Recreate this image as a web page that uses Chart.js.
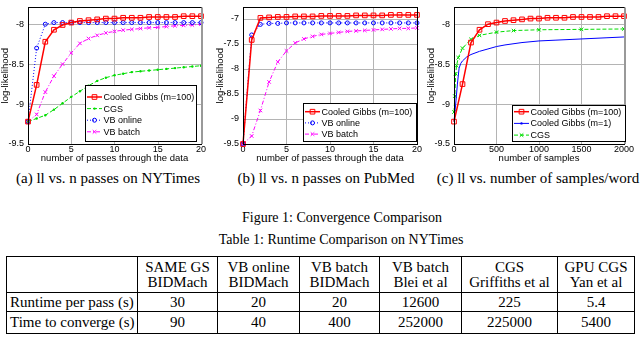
<!DOCTYPE html>
<html>
<head>
<meta charset="utf-8">
<script src="https://cdn.jsdelivr.net/npm/chart.js@4.4.1/dist/chart.umd.min.js"></script>
<style>
  body { margin:0; width:640px; height:337px; overflow:hidden; background:#fff; position:relative; font-family:"Liberation Serif", "Times New Roman", serif; color:#000; }
  canvas { position:absolute; }
  .cap { position:absolute; font-size:14px; white-space:nowrap; transform:translateX(-50%); line-height:16px; }
  .sub { font-size:15px; }
  table { position:absolute; left:6px; top:256px; border-collapse:collapse; font-size:15px; table-layout:fixed; }
  td { border:1px solid #000; text-align:center; padding:0; line-height:15px; white-space:nowrap; }
  td.rl { text-align:left; padding-left:3px; }
</style>
</head>
<body>
<canvas id="chartA" width="206" height="168" style="left:0;top:-2px"></canvas>
<canvas id="chartB" width="207" height="168" style="left:215px;top:-2px"></canvas>
<canvas id="chartC" width="208" height="168" style="left:426px;top:-2px"></canvas>

<div class="cap sub" style="left:108px;top:170px">(a) ll vs. n passes on NYTimes</div>
<div class="cap sub" style="left:326px;top:170px">(b) ll vs. n passes on PubMed</div>
<div class="cap sub" style="left:538px;top:170px">(c) ll vs. number of samples/word</div>
<div class="cap" style="left:342px;top:210px">Figure 1: Convergence Comparison</div>
<div class="cap" style="left:341px;top:232px">Table 1: Runtime Comparison on NYTimes</div>

<table id="runtime">
  <colgroup>
    <col style="width:131px"><col style="width:80px"><col style="width:82px"><col style="width:80px">
    <col style="width:82px"><col style="width:96px"><col style="width:77px">
  </colgroup>
</table>

<script>
// x values
const passes = [0, 1, 2, 3, 4, 5, 6, 7, 8, 9, 10, 11, 12, 13, 14, 15, 16, 17, 18, 19, 20];
const samplesM100 = [0, 100, 200, 300, 400, 500, 600, 700, 800, 900, 1000, 1100, 1200, 1300, 1400, 1500, 1600, 1700, 1800, 1900, 2000];
const samplesM1 = [0, 20, 40, 60, 80, 100, 150, 200, 300, 400, 500, 600, 800, 1000, 1200, 1400, 1600, 1800, 2000];
const samplesCGS = [0, 10, 20, 30, 50, 100, 200, 300, 500, 700, 1000, 1500, 2000];

// tick labels
const passTicks = [0, 5, 10, 15, 20];
const sampleTicks = [0, 500, 1000, 1500, 2000];
const llTicksA = [-9.5, -9, -8.5, -8];
const llTicksB = [-9.5, -9, -8.5, -8, -7.5, -7];

// (a) NYTimes, log-likelihood per pass
const nytCooled = [-9.22, -8.76, -8.22, -8.07, -8.01, -7.98, -7.96, -7.95, -7.94, -7.93, -7.93, -7.92, -7.92, -7.92, -7.91, -7.91, -7.91, -7.91, -7.90, -7.90, -7.90];
const nytCGS = [-9.22, -9.18, -9.14, -9.07, -8.99, -8.91, -8.84, -8.77, -8.71, -8.67, -8.64, -8.62, -8.60, -8.59, -8.58, -8.57, -8.56, -8.55, -8.54, -8.53, -8.52];
const nytVBOnline = [-9.22, -8.30, -8.00, -7.98, -7.98, -7.98, -7.98, -7.98, -7.98, -7.98, -7.98, -7.98, -7.98, -7.98, -7.98, -7.98, -7.98, -7.98, -7.98, -7.98, -7.98];
const nytVBBatch = [-9.22, -9.13, -8.85, -8.65, -8.50, -8.36, -8.24, -8.18, -8.14, -8.11, -8.09, -8.075, -8.065, -8.055, -8.045, -8.04, -8.03, -8.02, -8.015, -8.01, -8.00];

// (b) PubMed
const pubCooled = [-9.5, -7.42, -6.98, -6.97, -6.96, -6.96, -6.95, -6.95, -6.95, -6.94, -6.94, -6.94, -6.94, -6.93, -6.93, -6.93, -6.93, -6.92, -6.92, -6.92, -6.92];
const pubVBOnline = [-9.5, -7.32, -7.11, -7.09, -7.09, -7.08, -7.08, -7.08, -7.08, -7.08, -7.08, -7.08, -7.08, -7.08, -7.08, -7.08, -7.08, -7.08, -7.08, -7.08, -7.08];
const pubVBBatch = [-9.5, -9.34, -8.83, -8.26, -7.86, -7.64, -7.48, -7.40, -7.35, -7.31, -7.29, -7.27, -7.25, -7.24, -7.23, -7.22, -7.21, -7.20, -7.19, -7.19, -7.18];

// (c) log-likelihood vs samples per word
const sampM100 = [-9.22, -8.75, -8.23, -8.07, -8.00, -7.98, -7.96, -7.95, -7.94, -7.93, -7.93, -7.92, -7.92, -7.92, -7.91, -7.91, -7.91, -7.91, -7.90, -7.90, -7.90];
const sampM1 = [-9.22, -9.00, -8.75, -8.55, -8.49, -8.46, -8.41, -8.38, -8.34, -8.31, -8.28, -8.26, -8.23, -8.21, -8.20, -8.19, -8.18, -8.17, -8.16];
const sampCGS = [-9.10, -8.90, -8.62, -8.52, -8.42, -8.30, -8.19, -8.14, -8.10, -8.08, -8.07, -8.065, -8.06];

// table
const tableHead = ['', 'SAME GS<br>BIDMach', 'VB online<br>BIDMach', 'VB batch<br>BIDMach', 'VB batch<br>Blei et al', 'CGS<br>Griffiths et al', 'GPU CGS<br>Yan et al'];
const runtimePerPass = ['Runtime per pass (s)', '30', '20', '20', '12600', '225', '5.4'];
const timeToConverge = ['Time to converge (s)', '90', '40', '400', '252000', '225000', '5400'];

let tbl = document.getElementById('runtime');
let rows = [[tableHead, 36], [runtimePerPass, 19], [timeToConverge, 22]];
for (let [cells, h] of rows) {
    let row = tbl.insertRow(-1);
    row.style.height = h + 'px';
    cells.forEach((c, i) => {
        let td = row.insertCell(-1);
        td.innerHTML = c;
        if (i === 0) td.className = 'rl';
    });
}

const sans = '"Liberation Sans", Arial, sans-serif';

// styles of each curve (MATLAB look)
const redSq = { borderColor: '#ff0000', borderWidth: 1.5, pointStyle: 'rect', pointRadius: 3.3, pointBorderWidth: 1, pointBorderColor: '#ff0000', pointBackgroundColor: 'rgba(255,255,255,0)' };
const greenDot = { borderColor: '#00dd00', borderWidth: 1, borderDash: [4, 2], pointStyle: 'circle', pointRadius: 1.2, pointBorderWidth: 0, pointBackgroundColor: '#00dd00' };
const blueCirc = { borderColor: '#0000ff', borderWidth: 1, borderDash: [1, 2], pointStyle: 'circle', pointRadius: 2, pointBorderWidth: 1, pointBorderColor: '#0000ff', pointBackgroundColor: 'rgba(255,255,255,0)' };
const magX = { borderColor: '#ff00ff', borderWidth: 1, borderDash: [4, 2, 1, 2], pointStyle: 'crossRot', pointRadius: 2.5, pointBorderWidth: 1, pointBorderColor: '#ff00ff' };
const blueLine = { borderColor: '#0000ff', borderWidth: 1, pointRadius: 0, legendPoint: { pointStyle: 'circle', radius: 1.2, fill: '#0000ff' } };
const greenX = { borderColor: '#00dd00', borderWidth: 1, borderDash: [4, 2], pointStyle: 'crossRot', pointRadius: 2.5, pointBorderWidth: 1, pointBorderColor: '#00dd00' };

function series(label, xs, ys, style) {
    return Object.assign({ label: label, data: xs.map((x, i) => ({ x: x, y: ys[i] })), clip: false, fill: false, tension: 0 }, style);
}

// grid (put behind the curves), box round the axes and a MATLAB style legend inside
const matlabBox = {
    id: 'matlabBox',
    afterDraw(chart, args, opts) {
        const ctx = chart.ctx, a = chart.chartArea;
        const xs = chart.scales.x, ys = chart.scales.y;
        ctx.save();
        ctx.globalCompositeOperation = 'destination-over';
        ctx.strokeStyle = '#b4b4b4';
        ctx.lineWidth = 1;
        ctx.setLineDash([]);
        ctx.beginPath();
        xs.ticks.forEach(t => {
            let px = Math.round(xs.getPixelForValue(t.value)) + 0.5;
            ctx.moveTo(px, a.top);
            ctx.lineTo(px, a.bottom);
        });
        ys.ticks.forEach(t => {
            let py = Math.round(ys.getPixelForValue(t.value)) + 0.5;
            ctx.moveTo(a.left, py);
            ctx.lineTo(a.right, py);
        });
        ctx.stroke();
        ctx.restore();

        ctx.save();
        ctx.strokeStyle = '#000';
        ctx.lineWidth = 1;
        ctx.setLineDash([]);
        ctx.strokeRect(Math.round(a.left) + 0.5, Math.round(a.top) + 0.5, Math.round(a.right - a.left), Math.round(a.bottom - a.top));
        if (opts.thickRight) {
            ctx.strokeStyle = '#999';
            ctx.lineWidth = 2;
            ctx.beginPath();
            ctx.moveTo(Math.round(a.right) + 1, a.top);
            ctx.lineTo(Math.round(a.right) + 1, a.bottom);
            ctx.stroke();
            ctx.strokeStyle = '#000';
            ctx.lineWidth = 1;
        }

        const L = opts.legend;
        ctx.fillStyle = '#fff';
        ctx.fillRect(L.x, L.y, L.w, L.h);
        ctx.strokeRect(L.x + 0.5, L.y + 0.5, L.w, L.h);
        chart.data.datasets.forEach((ds, i) => {
            const y = L.y + L.first + i * L.step;
            ctx.strokeStyle = ds.borderColor;
            ctx.lineWidth = ds.borderWidth;
            ctx.setLineDash(ds.borderDash || []);
            ctx.beginPath();
            ctx.moveTo(L.x + 2, y);
            ctx.lineTo(L.x + 17, y);
            ctx.stroke();
            ctx.setLineDash([]);
            const p = ds.legendPoint || { pointStyle: ds.pointStyle, radius: ds.pointRadius, fill: ds.pointBackgroundColor || 'rgba(0,0,0,0)' };
            ctx.fillStyle = p.fill;
            ctx.strokeStyle = ds.pointBorderColor || ds.borderColor;
            ctx.lineWidth = ds.pointBorderWidth || 1;
            Chart.helpers.drawPoint(ctx, { pointStyle: p.pointStyle, radius: p.radius, borderWidth: ds.pointBorderWidth || 0, rotation: 0 }, L.x + 9.5, y);
            ctx.fillStyle = '#000';
            ctx.font = '9px ' + sans;
            ctx.textBaseline = 'middle';
            ctx.textAlign = 'left';
            ctx.fillText(ds.label, L.x + 18.5, y + 0.5);
        });
        ctx.restore();
    }
};

function makeOptions(xMin, xMax, xTicks, yMin, yMax, yTicks, xTitle, legend, thickRight) {
    return {
        responsive: false,
        animation: false,
        layout: { padding: { top: 1, right: 5, left: 0, bottom: 0 } },
        plugins: {
            legend: { display: false },
            tooltip: { enabled: false },
            matlabBox: { legend: legend, thickRight: thickRight }
        },
        scales: {
            x: {
                type: 'linear', min: xMin, max: xMax,
                afterBuildTicks: s => { s.ticks = xTicks.map(v => ({ value: v })); },
                afterFit: s => { s.height = 22; },
                ticks: { font: { family: sans, size: 9 }, color: '#000', padding: 0, maxRotation: 0, callback: v => String(v) },
                grid: { drawOnChartArea: false, drawTicks: false },
                border: { display: false },
                title: { display: true, text: xTitle, font: { family: sans, size: 9.5 }, color: '#000', padding: { top: 0, bottom: 2 } }
            },
            y: {
                type: 'linear', min: yMin, max: yMax,
                afterBuildTicks: s => { s.ticks = yTicks.map(v => ({ value: v })); },
                afterFit: s => { s.width = 28; },
                ticks: { font: { family: sans, size: 9 }, color: '#000', padding: 4, callback: v => String(v) },
                grid: { drawOnChartArea: false, drawTicks: false },
                border: { display: false },
                title: { display: true, text: 'log-likelihood', font: { family: sans, size: 9.5 }, color: '#000', padding: { top: 0, bottom: 0 } }
            }
        }
    };
}

new Chart(document.getElementById('chartA'), {
    type: 'line',
    data: {
        datasets: [
            series('Cooled Gibbs (m=100)', passes, nytCooled, redSq),
            series('CGS', passes, nytCGS, greenDot),
            series('VB online', passes, nytVBOnline, blueCirc),
            series('VB batch', passes, nytVBBatch, magX)
        ]
    },
    options: makeOptions(0, 20, passTicks, -9.5, -7.79, llTicksA, 'number of passes through the data',
        { x: 85, y: 87, w: 111, h: 56, first: 12, step: 11.6 }, true),
    plugins: [matlabBox]
});

new Chart(document.getElementById('chartB'), {
    type: 'line',
    data: {
        datasets: [
            series('Cooled Gibbs (m=100)', passes, pubCooled, redSq),
            series('VB online', passes, pubVBOnline, blueCirc),
            series('VB batch', passes, pubVBBatch, magX)
        ]
    },
    options: makeOptions(0, 20, passTicks, -9.5, -6.77, llTicksB, 'number of passes through the data',
        { x: 88, y: 105, w: 113, h: 38, first: 8.7, step: 11.2 }, false),
    plugins: [matlabBox]
});

new Chart(document.getElementById('chartC'), {
    type: 'line',
    data: {
        datasets: [
            series('Cooled Gibbs (m=100)', samplesM100, sampM100, redSq),
            series('Cooled Gibbs (m=1)', samplesM1, sampM1, blueLine),
            series('CGS', samplesCGS, sampCGS, greenX)
        ]
    },
    options: makeOptions(0, 2000, sampleTicks, -9.5, -7.79, llTicksA, 'number of samples',
        { x: 86, y: 107, w: 113, h: 36, first: 6.7, step: 11.7 }, true),
    plugins: [matlabBox]
});
</script>
</body>
</html>
